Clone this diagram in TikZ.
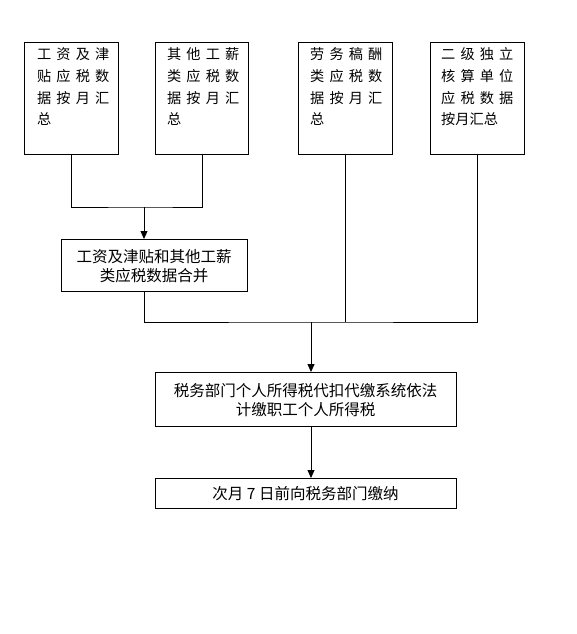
\documentclass[tikz,border=0pt]{standalone}
\usepackage{fontspec}
\setmainfont{Liberation Serif}
\newfontfamily\cjk{Noto Sans CJK SC}
\newfontfamily\cjksp[LetterSpace=36]{Noto Sans CJK SC}
\usetikzlibrary{arrows.meta}
\begin{document}
\begin{tikzpicture}[x=1pt,y=-1pt,
  box/.style={draw, line width=1pt, inner sep=0, anchor=north west},
  toptext/.style={anchor=north west, inner sep=0, align=left, font=\cjksp\fontsize{14.2}{21.7}\selectfont},
  midtext/.style={align=center, font=\cjk\fontsize{15.5}{19.5}\selectfont},
  conn/.style={line width=0.8pt},
  arrow/.style={conn, -{Triangle[width=7pt,length=8pt]}}]
\useasboundingbox (0,0) rectangle (576,634);
% top boxes
\node[box, minimum width=94pt, minimum height=112pt] (b1) at (24,42) {};
\node[box, minimum width=93pt, minimum height=112pt] (b2) at (155,42) {};
\node[box, minimum width=94pt, minimum height=112pt] (b3) at (298,42) {};
\node[box, minimum width=94pt, minimum height=112pt] (b4) at (430,42) {};
\node[toptext] (t1) at (37,47.5) {工资及津\\贴应税数\\据按月汇\\总};
\node[toptext] (t2) at (167,47.5) {其他工薪\\类应税数\\据按月汇\\总};
\node[toptext] (t3) at (310,47.5) {劳务稿酬\\类应税数\\据按月汇\\总};
\node[toptext] (t4) at (441,47.5) {二级独立\\核算单位\\应税数据\\{\cjk 按月汇总}};
% merge box
\node[box, minimum width=186pt, minimum height=52pt] (b5) at (61,239) {};
\node[midtext] (t5) at (154,266) {工资及津贴和其他工薪\\类应税数据合并};
% system box
\node[box, minimum width=301pt, minimum height=54pt] (b6) at (155,372) {};
\node[midtext] (t6) at (305.5,400) {税务部门个人所得税代扣代缴系统依法\\计缴职工个人所得税};
% pay box
\node[box, minimum width=301pt, minimum height=30pt] (b7) at (155,478) {};
\node[midtext] (t7) at (305.5,493.5) {次月 7 日前向税务部门缴纳};
% connectors
\coordinate (j1) at (144,207);
\coordinate (j2) at (311,322);
\draw[conn] (b1.south) |- (j1) -| (b2.south);
\draw[arrow] (j1) -- (j1 |- b5.north);
\draw[conn] (b5.south -| j1) |- (j2) -| (b4.south);
\draw[conn] (b3.south) -- (b3.south |- j2);
\draw[arrow] (j2) -- (j2 |- b6.north);
\draw[arrow] (b6.south -| j2) -- (b7.north -| j2);
\end{tikzpicture}
\end{document}
